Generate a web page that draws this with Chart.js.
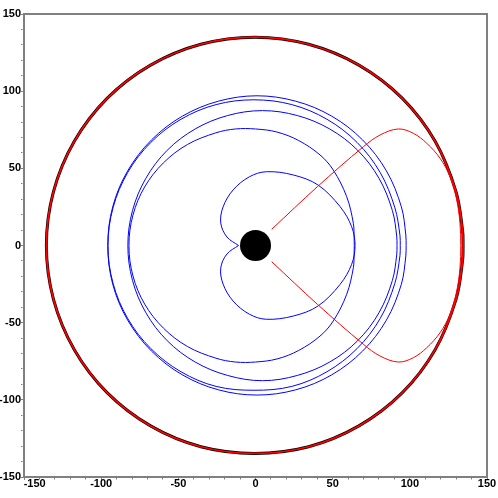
<!DOCTYPE html>
<html>
<head>
<meta charset="utf-8">
<script src="https://cdn.jsdelivr.net/npm/chart.js@4.4.1/dist/chart.umd.min.js"></script>
<style>
  html, body { margin: 0; padding: 0; background: #fff; }
  #wrap { width: 498px; height: 498px; }
</style>
</head>
<body>
<div id="wrap"><canvas id="orbitChart"></canvas></div>
<script>
// axis range
const axisMin = -150;
const axisMax = 150;
const labelStep = 50;
const tickStep = 10;

// central body
const centre = [[0, 0]];

// big outer ring (black + red passes)
const outerRing = [
    [134.5, 0], [134.2, 9.4], [129.9, 34.9], [116.4, 67.5], [95, 95.5], [67, 116.9], [34.4, 130.4],
    [-0.5, 135], [-35.4, 130.4], [-68, 116.9], [-96, 95.5], [-117.4, 67.5], [-130.9, 34.9],
    [-135.5, 0], [-130.9, -34.9], [-117.4, -67.5], [-96, -95.5], [-68, -116.9], [-35.4, -130.4],
    [-0.5, -134.7], [34.4, -130.4], [67, -116.9], [95, -95.5], [116.4, -67.5], [129.9, -34.9],
    [134.2, -9.4], [134.5, 0]
];

// red path going out from the centre and back
const redLoop = [
    [10.5, 10.5], [40, 38], [69.9, 64], [80.7, 71.6], [92.5, 75.5], [102.3, 72.7],
    [111, 66.2], [119.6, 56.5], [126, 44.6], [130.4, 29.5], [132.5, 14.4], [133, 0],
    [132.5, -14.4], [130.4, -29.5], [126, -44.6], [119.6, -56.5], [111, -66.2],
    [102.3, -72.7], [92.5, -75.5], [80.7, -71.6], [69.9, -64], [40, -38], [10.5, -10.5]
];

// blue paths
const innerLoop = [
    [-11, 0], [-18.5, 5.5], [-22.5, 14.5], [-21, 25], [-14.5, 36], [-4, 44.5], [7, 47.8],
    [24.5, 45.7], [40.5, 39.2], [54.8, 25.2], [62.3, 12.2], [64.5, 0],
    [62.3, -12.2], [54.8, -25.2], [40.5, -39.2], [24.5, -45.7], [7, -47.8], [-4, -44.5],
    [-14.5, -36], [-21, -25], [-22.5, -14.5], [-18.5, -5.5], [-11, 0]
];

const orbitD = [
    [64, 0], [63.9, 5], [63.4, 14.4], [59.1, 31.6], [50.4, 48.9], [41.8, 58.7], [28, 68], [14, 73.5],
    [0, 75.5], [-13, 75.5], [-25.7, 73], [-44, 65.5], [-59.7, 53.5], [-71.8, 38],
    [-79.4, 19.7], [-82, 0], [-79.4, -19.7], [-71.8, -38], [-59.7, -53.5], [-44, -65.5],
    [-25.7, -73], [-13, -75.5], [0, -75.5], [14, -73.5], [28, -68], [41.8, -58.7],
    [50.4, -48.9], [59.1, -31.6], [63.4, -14.4], [63.9, -5], [64, 0]
];

const orbitC = [
    [91.7, 0], [91.5, 6.1], [88.7, 22.6], [80, 43.6], [66.2, 61.7], [48.1, 75.5], [27.1, 84.2],
    [4.5, 87.4], [-18.1, 84.2], [-39.1, 75.5], [-57.2, 61.7], [-71, 43.6], [-79.7, 22.6],
    [-82.7, 0], [-79.7, -22.6], [-71, -43.6], [-57.2, -61.7], [-39.1, -75.5], [-18.1, -84.2],
    [4.5, -87.6], [27.1, -84.2], [48.1, -75.5], [66.2, -61.7], [80, -43.6], [88.7, -22.6],
    [91.5, -6.1], [91.7, 0]
];

const orbitB = [
    [93.8, 0], [93.6, 6.6], [90.3, 24.5], [80.8, 47.3], [65.8, 66.8], [46.3, 81.8], [23.5, 91.3],
    [-1, 94.4], [-25.5, 91.3], [-48.3, 81.8], [-67.8, 66.8], [-82.8, 47.3], [-92.3, 24.5],
    [-95.6, 0], [-92.3, -24.5], [-82.8, -47.3], [-67.8, -66.8], [-48.3, -81.8], [-25.5, -91.3],
    [-1, -93.8], [23.5, -91.3], [46.3, -81.8], [65.8, -66.8], [80.8, -47.3], [90.3, -24.5],
    [93.6, -6.6], [93.8, 0]
];

const orbitA = [
    [97.6, 0], [97.4, 6.8], [94.5, 25.1], [84.8, 48.4], [69.4, 68.4], [49.4, 83.8], [26.1, 93.5],
    [1, 97], [-24.1, 93.5], [-47.4, 83.8], [-67.4, 68.4], [-82.8, 48.4], [-92.5, 25.1],
    [-95.7, 0], [-92.5, -25.1], [-82.8, -48.4], [-67.4, -68.4], [-47.4, -83.8], [-24.1, -93.5],
    [1, -96.9], [26.1, -93.5], [49.4, -83.8], [69.4, -68.4], [84.8, -48.4], [94.5, -25.1],
    [97.4, -6.8], [97.6, 0]
];

const tickFont = {
    family: "'Liberation Sans Narrow', 'Liberation Sans', Arial, sans-serif",
    size: 11,
    weight: 'bold'
};

function path(data, color, width) {
    return {
        data: data,
        borderColor: color,
        borderWidth: width,
        showLine: true,
        pointRadius: 0,
        pointHoverRadius: 0,
        tension: 0.35,
        fill: false
    };
}

function axis(position, size) {
    return {
        type: 'linear',
        position: position,
        min: axisMin,
        max: axisMax,
        ticks: {
            stepSize: tickStep,
            autoSkip: false,
            maxRotation: 0,
            padding: position === 'left' ? 0 : -3,
            color: '#000',
            font: tickFont,
            callback: function (v) {
                if (v % labelStep !== 0) return '';
                // first x label sits to the right, clear of the y labels
                if (position === 'bottom' && v === axisMin) return '       ' + v;
                return String(v);
            }
        },
        grid: {
            drawOnChartArea: false,
            tickLength: 3,
            tickColor: '#808080',
            tickWidth: 1,
            tickBorderDash: ctx => (ctx.tick && ctx.tick.value % labelStep !== 0) ? [1.5, 10] : []
        },
        border: { color: '#808080', width: 2 },
        afterFit: function (scale) {
            if (position === 'left') scale.width = size;
            else scale.height = size;
        }
    };
}

// top and right edges of the frame
const frameBox = {
    id: 'frameBox',
    beforeDatasetsDraw(chart) {
        const { ctx, chartArea } = chart;
        ctx.save();
        ctx.strokeStyle = '#808080';
        ctx.lineWidth = 2;
        ctx.beginPath();
        ctx.moveTo(chartArea.left, chartArea.top);
        ctx.lineTo(chartArea.right, chartArea.top);
        ctx.lineTo(chartArea.right, chartArea.bottom);
        ctx.stroke();
        ctx.restore();
    }
};

new Chart(document.getElementById('orbitChart'), {
    type: 'scatter',
    data: {
        datasets: [
            { data: centre, pointRadius: 15.5, pointHoverRadius: 15.5, pointBackgroundColor: '#000', pointBorderWidth: 0, showLine: false },
            path(redLoop, '#ff0000', 1),
            path(innerLoop, '#0000ff', 1),
            path(orbitD, '#0000ff', 1),
            path(orbitC, '#0000ff', 1),
            path(orbitB, '#0000ff', 1),
            path(orbitA, '#0000ff', 1),
            path(outerRing, '#ff0000', 1.8),
            path(outerRing, '#000000', 3)
        ]
    },
    options: {
        responsive: true,
        maintainAspectRatio: false,
        animation: false,
        events: [],
        layout: { autoPadding: false, padding: { top: 14, right: 11, left: 0, bottom: 0 } },
        plugins: {
            legend: { display: false },
            tooltip: { enabled: false }
        },
        scales: {
            x: axis('bottom', 21),
            y: axis('left', 24)
        }
    },
    plugins: [frameBox]
});
</script>
</body>
</html>
